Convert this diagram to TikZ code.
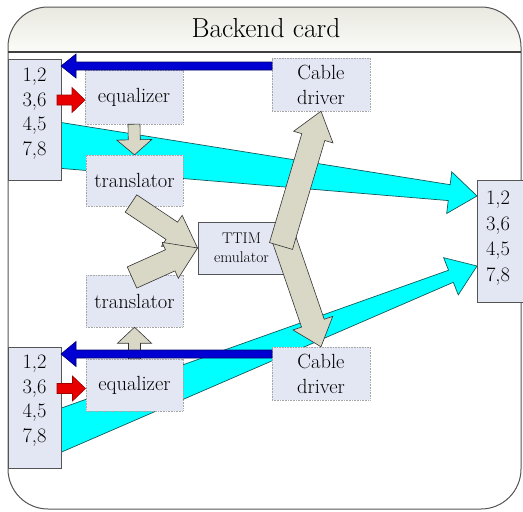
\documentclass[tikz,border=0pt]{standalone}
\usepackage{fontspec}
\usetikzlibrary{calc}
\definecolor{boxfill}{RGB}{227,231,243}
\definecolor{arrgray}{RGB}{217,216,199}
\definecolor{cyanfill}{RGB}{0,255,255}
\definecolor{cyanedge}{RGB}{20,90,90}
\definecolor{bluefill}{RGB}{0,0,210}
\definecolor{blueedge}{RGB}{0,0,110}
\definecolor{redfill}{RGB}{232,0,0}
\definecolor{rededge}{RGB}{160,0,0}
\definecolor{frameedge}{RGB}{85,85,85}
\definecolor{headtop}{RGB}{233,233,225}
\definecolor{headbot}{RGB}{251,251,248}
\tikzset{
  fatdims/.code n args={4}{\def\faSw{#1}\def\faEw{#2}\def\faHw{#3}\def\faHl{#4}},
  fatarrow/.style={to path={
    ($(\tikztostart)!\faSw!90:(\tikztotarget)$)
    -- ($(\tikztotarget)!\faHl!(\tikztostart)!\faEw!-90:(\tikztostart)$)
    -- ($(\tikztotarget)!\faHl!(\tikztostart)!\faHw!-90:(\tikztostart)$)
    -- (\tikztotarget)
    -- ($(\tikztotarget)!\faHl!(\tikztostart)!\faHw!90:(\tikztostart)$)
    -- ($(\tikztotarget)!\faHl!(\tikztostart)!\faEw!90:(\tikztostart)$)
    -- ($(\tikztostart)!\faSw!-90:(\tikztotarget)$)
    -- cycle}},
  dbox/.style={draw=gray!70, dash pattern=on 0.8pt off 0.8pt, fill=boxfill, inner sep=0pt,
    font=\fontsize{20.5}{25}\selectfont, align=center},
  nbox/.style={draw=frameedge, line width=0.8pt, fill=boxfill, inner sep=0pt},
  numtext/.style={inner sep=0pt, align=center, anchor=north, font=\fontsize{20.5}{24.8}\selectfont},
  grayarr/.style={fill=arrgray, draw=black!80, line width=0.6pt, fatarrow},
  cyanarr/.style={fill=cyanfill, draw=cyanedge, line width=0.7pt, fatarrow},
  bluearr/.style={fill=bluefill, draw=blueedge, line width=0.6pt, fatarrow},
  redarr/.style={fill=redfill, draw=rededge, line width=0.6pt, fatarrow},
}
\begin{document}
\begin{tikzpicture}[x=1pt,y=-1pt]
\useasboundingbox (0,0) rectangle (523,512);
% frame
\fill[white, rounded corners=40pt] (8,7) rectangle (521,509);
\begin{scope}
  \clip[rounded corners=40pt] (8,7) rectangle (521,509);
  \shade[top color=headtop, bottom color=headbot] (8,7) rectangle (521,52);
\end{scope}
\draw[frameedge, line width=1pt, rounded corners=40pt] (8,7) rectangle (521,509);
\draw[black!75, line width=1.3pt] (8,52) -- (521,52);
\node[font=\fontsize{27.5}{32}\selectfont, inner sep=0pt] (title) at (266,28) {Backend card};

% coordinates for the cyan arrows
\coordinate (c1s) at (50,144.2);
\coordinate (c1t) at (477,196);
\coordinate (c2s) at (50,434.3);
\coordinate (c2t) at (477,266);
\draw[cyanarr, fatdims={23.2pt}{8pt}{21pt}{28pt}] (c1s) to (c1t);
\draw[cyanarr, fatdims={20.9pt}{6.5pt}{20pt}{28pt}] (c2s) to (c2t);

% boxes
\node[nbox, minimum width=53pt, minimum height=121pt] (lb1) at (34.5,119.5) {};
\node[nbox, minimum width=53pt, minimum height=121pt] (lb2) at (34.5,407.5) {};
\node[nbox, minimum width=48pt, minimum height=122pt] (rb) at (501,241) {};
\node[numtext] (lt1) at ($(lb1.north)+(0,9)$) {1,2\\3,6\\4,5\\7,8};
\node[numtext] (lt2) at ($(lb2.north)+(0,8)$) {1,2\\3,6\\4,5\\7,8};
\node[numtext, font=\fontsize{20.5}{25.4}\selectfont] (rt) at ($(rb.north)+(-3,11.5)$) {1,2\\3,6\\4,5\\7,8};

\node[dbox, minimum width=98pt, minimum height=54pt] (eq1) at (134,97) {equalizer};
\node[dbox, minimum width=97pt, minimum height=51pt] (tr1) at (134.5,180.5) {translator};
\node[dbox, minimum width=97pt, minimum height=52pt] (tr2) at (134.5,301) {translator};
\node[dbox, minimum width=97pt, minimum height=52pt] (eq2) at (134.5,385) {equalizer};
\node[dbox, minimum width=98pt, minimum height=53pt] (cd1) at (321,84.5) {Cable\\driver};
\node[dbox, minimum width=98pt, minimum height=53pt] (cd2) at (321,373.5) {Cable\\driver};
\node[nbox, minimum width=87pt, minimum height=52pt, align=center,
      font=\fontsize{15.5}{19.5}\selectfont] (ttim) at (241.5,248) {TTIM\\emulator};

% small gray arrows
\draw[grayarr, fatdims={6pt}{6pt}{17.5pt}{15pt}] (eq1.south) to (tr1.north);
\draw[grayarr, fatdims={6pt}{6pt}{17pt}{16pt}] (eq2.north) to (tr2.south);

% blue arrows
\coordinate (b1s) at (272,66);
\coordinate (b1t) at (61,66);
\coordinate (b2s) at (272,354);
\coordinate (b2t) at (61,354);
\draw[bluearr, fatdims={4pt}{4pt}{12pt}{15pt}] (b1s) to (b1t);
\draw[bluearr, fatdims={4pt}{4pt}{12.5pt}{15pt}] (b2s) to (b2t);

% red arrows
\coordinate (r1s) at (57,100);
\coordinate (r1t) at (85,100);
\coordinate (r2s) at (57,388.5);
\coordinate (r2t) at (85.5,388.5);
\draw[redarr, fatdims={5pt}{5pt}{12.5pt}{13pt}] (r1s) to (r1t);
\draw[redarr, fatdims={5pt}{5pt}{12.5pt}{13pt}] (r2s) to (r2t);

% gray arrows into the emulator
\coordinate (g3s) at (131,203.5);
\coordinate (g4s) at (132,277.5);
\draw[grayarr, fatdims={10.4pt}{10.4pt}{18.6pt}{31pt}] (g3s) to (ttim.west);
\draw[grayarr, fatdims={11.6pt}{11.6pt}{19.7pt}{30pt}] (g4s) to (ttim.west);

% gray arrows out of the emulator
\coordinate (g5s) at (281,246);
\coordinate (g6s) at (283,236);
\draw[grayarr, fatdims={12pt}{12pt}{21pt}{25pt}] (g6s) to (cd2.north);
\draw[grayarr, fatdims={12pt}{12pt}{20.5pt}{27pt}] (g5s) to (cd1.south);
\end{tikzpicture}
\end{document}
